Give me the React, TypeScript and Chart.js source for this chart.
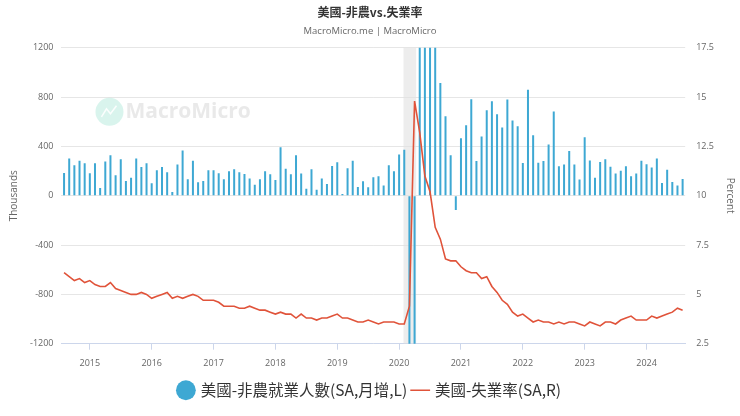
import React, { useEffect, useRef } from "react";
import { Chart, registerables } from "chart.js";

Chart.register(...registerables);

const startYear = 2014;
const startMonth = 8;
const nfp: number[] = [
  185, 302, 248, 283, 264,
  182, 264, 63, 277, 329, 166, 296, 120, 147, 302, 234, 264,
  101, 207, 234, 190, 30, 253, 367, 133, 283, 109, 120, 207,
  207, 182, 133, 199, 215, 190, 177, 139, 90, 133, 199, 174,
  128, 394, 220, 174, 329, 180, 57, 215, 49, 139, 95, 242,
  272, 14, 223, 283, 71, 117, 68, 150, 158, 84, 248, 199,
  335, 373, -1373, -20477, 2725, 4781, 1726, 1583, 915, 645, 329, -115,
  467, 572, 783, 281, 481, 694, 767, 662, 554, 780, 610, 564,
  265, 859, 491, 267, 281, 416, 683, 240, 254, 362, 254, 132,
  475, 286, 146, 273, 297, 235, 181, 203, 240, 159, 181, 284,
  256, 230, 302, 103, 211, 111, 84, 135,
];
const unrate: number[] = [
  6.1, 5.9, 5.7, 5.8, 5.6,
  5.7, 5.5, 5.4, 5.4, 5.6, 5.3, 5.2, 5.1, 5.0, 5.0, 5.1, 5.0,
  4.8, 4.9, 5.0, 5.1, 4.8, 4.9, 4.8, 4.9, 5.0, 4.9, 4.7, 4.7,
  4.7, 4.6, 4.4, 4.4, 4.4, 4.3, 4.3, 4.4, 4.3, 4.2, 4.2, 4.1,
  4.0, 4.1, 4.0, 4.0, 3.8, 4.0, 3.8, 3.8, 3.7, 3.8, 3.8, 3.9,
  4.0, 3.8, 3.8, 3.7, 3.6, 3.6, 3.7, 3.6, 3.5, 3.6, 3.6, 3.6,
  3.5, 3.5, 4.4, 14.8, 13.2, 11.0, 10.2, 8.4, 7.8, 6.8, 6.7, 6.7,
  6.4, 6.2, 6.1, 6.1, 5.8, 5.9, 5.4, 5.1, 4.7, 4.5, 4.1, 3.9,
  4.0, 3.8, 3.6, 3.7, 3.6, 3.6, 3.5, 3.6, 3.5, 3.6, 3.6, 3.5,
  3.4, 3.6, 3.5, 3.4, 3.6, 3.6, 3.5, 3.7, 3.8, 3.9, 3.7, 3.7,
  3.7, 3.9, 3.8, 3.9, 4.0, 4.1, 4.3, 4.2,
];
const months: string[] = nfp.map((_, i) => {
  const m = startMonth - 1 + i;
  const y = startYear + Math.floor(m / 12);
  const mm = (m % 12) + 1;
  return `${y}-${mm < 10 ? "0" + mm : mm}`;
});
const recessionStart = "2020-02";
const recessionEnd = "2020-04";
const leftTicks = { min: -1200, max: 1200, step: 400 };
const rightTicks = { min: 2.5, max: 17.5, step: 2.5 };
const titleText = "美國-非農vs.失業率";
const subtitleText = "MacroMicro.me | MacroMicro";
const barLabel = "美國-非農就業人數(SA,月增,L)";
const lineLabel = "美國-失業率(SA,R)";

const isYearStart = (i: number) => !!months[i] && months[i].endsWith("-01");
const tickFont = { size: 9, family: "'Open Sans', sans-serif" };
const axisTitleFont = { size: 10, family: "'Open Sans', sans-serif" };

export default function App() {
  const ref = useRef<HTMLCanvasElement | null>(null);
  useEffect(() => {
    document.body.style.margin = "0";
    const ctx = ref.current!.getContext("2d")!;
    const bgPlugin = {
      id: "bgExtras",
      beforeDatasetsDraw(chart: any) {
        const { ctx, chartArea, scales } = chart;
        const x = scales.x;
        const i0 = months.indexOf(recessionStart);
        const i1 = months.indexOf(recessionEnd);
        const half = (x.getPixelForValue(1) - x.getPixelForValue(0)) / 2;
        const x0 = x.getPixelForValue(i0) - half * 0.3;
        const x1 = x.getPixelForValue(i1) + half * 0.6;
        ctx.save();
        ctx.fillStyle = "rgba(225,225,225,0.6)";
        ctx.fillRect(x0, chartArea.top, x1 - x0, chartArea.bottom - chartArea.top);
        // watermark
        const cx = chartArea.left + 48;
        const cy = chartArea.top + 64;
        ctx.fillStyle = "rgba(170,230,215,0.45)";
        ctx.beginPath();
        ctx.arc(cx, cy, 14, 0, Math.PI * 2);
        ctx.fill();
        ctx.strokeStyle = "rgba(255,255,255,0.9)";
        ctx.lineWidth = 1.5;
        ctx.beginPath();
        ctx.moveTo(cx - 8, cy + 5);
        ctx.lineTo(cx - 3, cy - 3);
        ctx.lineTo(cx + 1, cy + 2);
        ctx.lineTo(cx + 7, cy - 6);
        ctx.stroke();
        ctx.fillStyle = "rgba(200,200,200,0.4)";
        ctx.font = "bold 21px 'Open Sans', sans-serif";
        ctx.textBaseline = "middle";
        ctx.fillText("MacroMicro", chartArea.left + 64, cy);
        ctx.restore();
      },
    };
    const chart = new Chart(ctx, {
      type: "bar",
      data: {
        labels: months,
        datasets: [
          {
            type: "line",
            label: lineLabel,
            data: unrate,
            yAxisID: "y1",
            borderColor: "#e0533a",
            backgroundColor: "#e0533a",
            borderWidth: 1.6,
            pointRadius: 0,
            pointStyle: "line",
            tension: 0,
            order: 0,
          } as any,
          {
            type: "bar",
            label: barLabel,
            data: nfp,
            yAxisID: "y",
            backgroundColor: "#3ea8d3",
            borderColor: "#3ea8d3",
            barThickness: 2,
            inflateAmount: 0,
            pointStyle: "circle",
            order: 1,
          } as any,
        ],
      },
      plugins: [bgPlugin],
      options: {
        animation: false,
        responsive: false,
        maintainAspectRatio: false,
        layout: { padding: { left: 0, right: 0, top: 0, bottom: 8 } },
        plugins: {
          title: {
            display: true,
            text: titleText,
            color: "#333",
            font: { size: 12, weight: "bold", family: "'Noto Sans CJK TC', 'Open Sans', sans-serif" },
            padding: { top: 5, bottom: 2 },
          },
          subtitle: {
            display: true,
            text: subtitleText,
            color: "#666",
            font: { size: 9.5, family: "'Open Sans', sans-serif" },
            padding: { top: 4, bottom: 11 },
          },
          legend: {
            position: "bottom",
            reverse: true,
            labels: {
              usePointStyle: true,
              color: "#333",
              font: { size: 15.5, family: "'Noto Sans CJK TC', 'Open Sans', sans-serif" },
              boxWidth: 14,
              boxHeight: 14,
              padding: 6,
            },
          },
          tooltip: { enabled: false },
        },
        scales: {
          x: {
            type: "category",
            offset: true,
            grid: {
              display: true,
              drawOnChartArea: false,
              drawTicks: true,
              tickLength: 6,
              offset: false,
              color: (c: any) => (isYearStart(c.index) ? "#ccd6eb" : "rgba(0,0,0,0)"),
            },
            border: { display: true, color: "#ccd6eb" },
            ticks: {
              autoSkip: false,
              maxRotation: 0,
              color: "#666",
              font: tickFont,
              padding: 8,
              callback: (_v: any, i: number) => (isYearStart(i) ? months[i].slice(0, 4) : ""),
            },
          },
          y: {
            position: "left",
            min: leftTicks.min,
            max: leftTicks.max,
            grid: { color: "#e6e6e6", drawTicks: false },
            border: { display: false },
            ticks: {
              stepSize: leftTicks.step,
              color: "#666",
              font: tickFont,
              padding: 8,
              callback: (v: any) => String(v),
            },
            title: {
              display: true,
              text: "Thousands",
              color: "#666",
              font: axisTitleFont,
              padding: { top: 8, bottom: 2 },
            },
          },
          y1: {
            position: "right",
            min: rightTicks.min,
            max: rightTicks.max,
            grid: { drawOnChartArea: false, drawTicks: false },
            border: { display: false },
            ticks: {
              stepSize: rightTicks.step,
              color: "#666",
              font: tickFont,
              padding: 11,
              callback: (v: any) => String(v),
            },
            title: {
              display: true,
              text: "Percent",
              color: "#666",
              font: axisTitleFont,
              padding: { top: 4, bottom: -1 },
            },
          },
        },
      } as any,
    });
    return () => chart.destroy();
  }, []);
  return (
    <div style={{ width: 740, height: 416 }}>
      <canvas ref={ref} width={740} height={416} style={{ width: 740, height: 416, display: "block" }} />
    </div>
  );
}
